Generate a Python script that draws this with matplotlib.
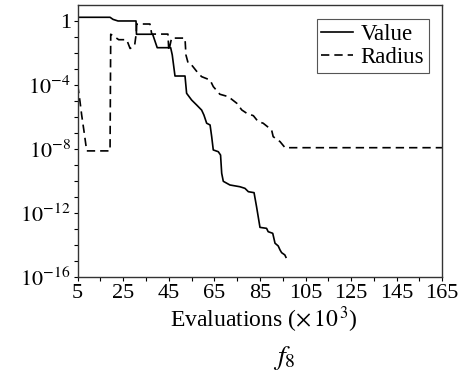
import numpy as np
import matplotlib
matplotlib.use("Agg")
import matplotlib.pyplot as plt

plt.rcParams['font.family'] = ['Liberation Serif', 'DejaVu Serif']
plt.rcParams['mathtext.fontset'] = 'stix'

# evaluations (x 10^3) and log10 of the best value
value_evals = [5, 19.2, 20.5, 22.7, 30.6, 30.8, 37.9, 39.9, 45.8, 46.5, 47.7, 52.1,
               52.8, 55.0, 57.2, 59.4, 60.4, 61.6, 63.1, 63.8, 64.5, 66.7, 67.7,
               68.2, 68.9, 71.8, 76.2, 78.4, 79.9, 82.4, 83.5, 85.0, 87.9, 88.6,
               90.6, 91.6, 93.0, 93.8, 94.5, 95.9, 96.4]
value_log = [0.25, 0.25, 0.12, 0.02, 0.02, -0.81, -0.81, -1.65, -1.65, -2.1, -3.42, -3.42,
             -4.5, -4.92, -5.23, -5.55, -5.86, -6.37, -6.48, -7.2, -8.04, -8.15, -8.36,
             -9.5, -10.0, -10.23, -10.34, -10.44, -10.65, -10.71, -11.59, -12.88, -12.94,
             -13.15, -13.25, -13.87, -14.04, -14.29, -14.46, -14.6, -14.75]

# step size (radius) of the search
radius_evals = [5, 6.0, 6.75, 7.9, 8.95, 19.2, 19.5, 21.0, 23.0, 26.5, 28.0, 30.0, 30.7,
                30.9, 36.7, 37.5, 44.6, 45.0, 46.2, 52.1, 52.5, 53.5, 55.0, 57.9, 59.4,
                63.1, 64.5, 67.4, 71.1, 74.8, 77.0, 79.2, 82.1, 84.2, 86.4, 90.1, 90.8,
                93.8, 96.0, 165]
radius_log = [-3.98, -5.0, -5.86, -7.0, -8.1, -8.1, -0.81, -0.95, -1.15, -1.15, -1.7, -1.5,
              -0.75, -0.17, -0.17, -0.8, -0.8, -1.85, -1.05, -1.05, -2.1, -2.63, -2.73,
              -3.25, -3.46, -3.67, -4.08, -4.56, -4.71, -5.12, -5.54, -5.75, -5.9, -6.27,
              -6.37, -6.79, -7.21, -7.52, -7.9, -7.9]

x_ticks = list(range(5, 166, 10))
x_labels = [str(t) if (t - 5) % 20 == 0 else '' for t in x_ticks]
y_exps = list(range(-16, 1))

fig = plt.figure(figsize=(4.68, 3.78), dpi=100)
ax = fig.add_axes([0.166, 0.2664, 0.779, 0.7196])

ax.plot(value_evals, 10.0 ** np.array(value_log), color='black', lw=1.2, label='Value')
ax.plot(radius_evals, 10.0 ** np.array(radius_log), color='black', lw=1.2,
        dashes=(5, 3), label='Radius')

ax.set_yscale('log')
ax.set_xlim(5, 165)
ax.set_ylim(1e-16, 1e1)
ax.set_xticks(x_ticks)
ax.set_xticklabels(x_labels)
ax.set_yticks([10.0 ** e for e in y_exps])
ax.set_yticklabels(['1' if e == 0 else (r'$10^{%d}$' % e if e % 4 == 0 else '')
                    for e in y_exps])
ax.yaxis.set_minor_locator(matplotlib.ticker.NullLocator())
ax.tick_params(direction='out', length=3, width=0.8, labelsize=16, pad=2)
for s in ax.spines.values():
    s.set_linewidth(1.0)
    s.set_color('#333333')

# axis caption and panel name below the axes
fig.text(0.563, 0.155, r'Evaluations ($\times\,10^{\,3}$)', fontsize=17,
         ha='center', va='center')
fig.text(0.607, 0.053, r'$f_8$', fontsize=20, ha='center', va='center')

leg = ax.legend(loc='upper right', fontsize=16.5, handlelength=1.4, handletextpad=0.3,
                fancybox=False, framealpha=1, edgecolor='#555555',
                borderpad=0.2, labelspacing=0.1, borderaxespad=0.6)
leg.get_frame().set_linewidth(0.8)

fig.savefig('out.png', dpi=100)
